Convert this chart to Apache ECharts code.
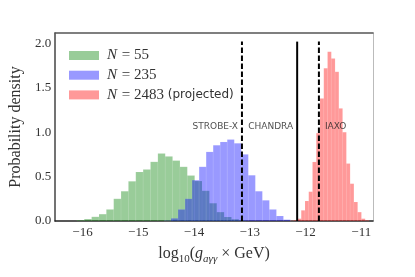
<!DOCTYPE html>
<html><head><meta charset="utf-8">
<script src="https://cdn.jsdelivr.net/npm/echarts@6/dist/echarts.min.js"></script>
<style>html,body{margin:0;padding:0;background:#fff}#c{width:415px;height:277px}</style>
</head><body><div id="c"></div>
<script>
// ---- data ----
const seriesNames = ['N = 55', 'N = 235', 'N = 2483'];
const legendCounts = ['55', '235', '2483'];
const legendNotes = ['', '', '(projected)'];

const greenBinStart = -16.10, greenBinWidth = 0.132;
const greenDensity = [0.009,0.022,0.047,0.077,0.13,0.25,0.335,0.447,0.552,0.58,0.666,0.76,0.727,0.68,0.61,0.512,0.45,0.34,0.2,0.1,0.045,0.02,0.006];

const blueBinStart = -14.538, blueBinWidth = 0.126;
const blueDensity = [0.004,0.03,0.13,0.25,0.46,0.61,0.778,0.853,0.89,0.917,0.875,0.75,0.515,0.335,0.233,0.13,0.056,0.015];

const redBinStart = -12.28, redBinWidth = 0.0675;
const redDensity = [0.003,0.008,0.026,0.12,0.225,0.33,0.665,0.99,1.38,1.72,1.906,1.83,1.68,1.268,1.0,0.647,0.42,0.214,0.1,0.026,0.008];

const limitNames = ['STROBE-X', 'CHANDRA', 'IAXO'];
const limitX = [-13.14, -12.15, -11.76];
const limitDashed = [true, false, true];
const limitLabelSide = ['left', 'left', 'right'];
const limitTop = 2.02;
const limitLabelY = 1.06;

const xTicks = [-16, -15, -14, -13, -12, -11];
const yTicks = [0, 0.5, 1.0, 1.5, 2.0];
const xRange = [-16.49, -10.79];
const yRange = [0, 2.117];

// ---- build ----
function histData(start, width, dens) {
  return dens.map((d, i) => [start + i * width, start + (i + 1) * width, d]);
}
function histSeries(name, data, color) {
  return {
    type: 'custom', name: name, data: data,
    encode: { x: [0, 1], y: 2 },
    itemStyle: { color: color },
    renderItem: function (params, api) {
      const p0 = api.coord([api.value(0), 0]);
      const p1 = api.coord([api.value(1), api.value(2)]);
      return { type: 'rect',
        shape: { x: p0[0], y: p1[1], width: p1[0] - p0[0], height: p0[1] - p1[1] },
        style: { fill: color, stroke: 'rgba(255,255,255,0.15)', lineWidth: 0.5 } };
    }
  };
}

const serif = 'Liberation Serif';
const series = [
  histSeries(seriesNames[0], histData(greenBinStart, greenBinWidth, greenDensity), 'rgba(0,128,0,0.4)'),
  histSeries(seriesNames[1], histData(blueBinStart, blueBinWidth, blueDensity), 'rgba(0,0,255,0.4)'),
  histSeries(seriesNames[2], histData(redBinStart, redBinWidth, redDensity), 'rgba(255,0,0,0.4)')
];
limitX.forEach((x, i) => {
  series.push({
    type: 'line', data: [[x, 0], [x, limitTop]], symbol: 'none', silent: true, z: 5,
    lineStyle: { color: '#000', width: 2, type: limitDashed[i] ? [5.5, 2.5] : 'solid' }
  });
});
series.push({
  type: 'scatter', symbolSize: 0, silent: true, z: 6,
  data: limitX.map((x, i) => ({ name: limitNames[i], value: [x, limitLabelY],
    label: { show: true, position: limitLabelSide[i], distance: limitLabelSide[i] === 'left' ? 4 : 6,
      formatter: '{b}', fontFamily: 'DejaVu Sans', fontSize: 9, color: '#222' } }))
});

const fmtMinus = v => (v < 0 ? '\u2212' + Math.abs(v) : String(v));

const option = {
  animation: false,
  backgroundColor: '#fff',
  grid: { left: 52, right: 42, top: 33, bottom: 56 },
  legend: {
    orient: 'vertical', left: 64, top: 43, itemWidth: 30, itemHeight: 9, itemGap: 4.7,
    icon: 'rect', data: seriesNames,
    formatter: name => {
      const i = seriesNames.indexOf(name);
      return '{i|N}{t| = ' + legendCounts[i] + '}' + (legendNotes[i] ? '{p| ' + legendNotes[i] + '}' : '');
    },
    textStyle: {
      rich: {
        i: { fontFamily: serif, fontStyle: 'italic', fontSize: 15, color: '#333', lineHeight: 16, padding: [0, 1, 0, 3] },
        t: { fontFamily: serif, fontSize: 15, color: '#333', lineHeight: 16 },
        p: { fontFamily: 'DejaVu Sans', fontSize: 12, color: '#333', lineHeight: 16 }
      }
    }
  },
  xAxis: [{
    type: 'value', min: xRange[0], max: xRange[1], position: 'bottom',
    axisLine: { show: true, onZero: false, lineStyle: { color: '#222', width: 1.5 } },
    axisTick: { show: false }, splitLine: { show: false },
    axisLabel: { customValues: xTicks, formatter: fmtMinus, fontFamily: serif, fontSize: 13, color: '#333', margin: 5 },
    name: '{n|log}{s|10}{n|(}{i|g}{si|a\u03b3\u03b3}{n| \u00d7 GeV)}',
    nameLocation: 'middle', nameGap: 22,
    nameTextStyle: {
      rich: {
        n: { fontFamily: serif, fontSize: 16, color: '#333', lineHeight: 22 },
        i: { fontFamily: serif, fontStyle: 'italic', fontSize: 16, color: '#333', lineHeight: 22 },
        s: { fontFamily: serif, fontSize: 11, color: '#333', lineHeight: 11, verticalAlign: 'bottom' },
        si: { fontFamily: serif, fontStyle: 'italic', fontSize: 11, color: '#333', lineHeight: 11, verticalAlign: 'bottom' }
      }
    }
  }, {
    type: 'value', min: xRange[0], max: xRange[1], position: 'top',
    axisLine: { show: true, onZero: false, lineStyle: { color: '#555', width: 1.5 } },
    axisTick: { show: false }, axisLabel: { show: false }, splitLine: { show: false }
  }],
  yAxis: [{
    type: 'value', min: yRange[0], max: yRange[1], position: 'left',
    axisLine: { show: true, onZero: false, lineStyle: { color: '#444', width: 1.5 } },
    axisTick: { show: false }, splitLine: { show: false },
    axisLabel: { customValues: yTicks, formatter: v => v.toFixed(1), fontFamily: serif, fontSize: 13, color: '#333', margin: 4 },
    name: 'Probability density', nameLocation: 'middle', nameGap: 25,
    nameTextStyle: { fontFamily: serif, fontSize: 16, color: '#333' }
  }, {
    type: 'value', min: yRange[0], max: yRange[1], position: 'right',
    axisLine: { show: true, onZero: false, lineStyle: { color: '#bbb', width: 1 } },
    axisTick: { show: false }, axisLabel: { show: false }, splitLine: { show: false }
  }],
  series: series
};

const chart = echarts.init(document.getElementById('c'), null, { renderer: 'canvas' });
chart.setOption(option);
</script>
</body></html>
